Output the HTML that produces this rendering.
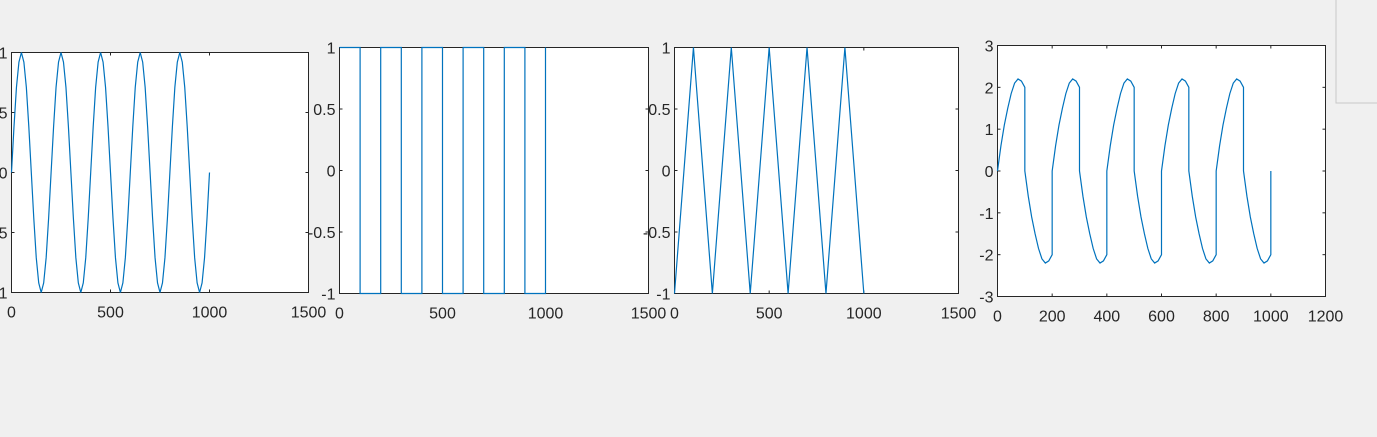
<!DOCTYPE html>
<html><head><meta charset="utf-8"><style>
body{margin:0;width:1377px;height:437px;background:#f0f0f0;overflow:hidden;font-family:"Liberation Sans",sans-serif}
svg{position:absolute;left:0;top:0}
text{font-size:16px;fill:#262626;font-family:"Liberation Sans",sans-serif}
</style></head><body>
<svg width="1377" height="437" id="s">
<rect x="1336" y="-1" width="50" height="104" fill="#f0f0f0" stroke="#c8c8c8"/>
</svg>
<script>
// plot 1: sine (one period, repeated)
const sinePerX=[0,12.5,25,37.5,50,62.5,75,87.5,100,112.5,125,137.5,150,162.5,175,187.5];
const sinePerY=[0,.38,.71,.92,1,.92,.71,.38,0,-.38,-.71,-.92,-1,-.92,-.71,-.38];
// plot 2: square
const sqX=[0,100,100,200,200,300,300,400,400,500,500,600,600,700,700,800,800,900,900,1000,1000];
const sqY=[1,1,-1,-1,1,1,-1,-1,1,1,-1,-1,1,1,-1,-1,1,1,-1,-1,1];
// plot 3: triangle
const triX=[0,100,200,300,400,500,600,700,800,900,1000];
const triY=[-1,1,-1,1,-1,1,-1,1,-1,1,-1];
// plot 4: one period, repeated
const perX=[0,12.5,25,37.5,50,62.5,75,87.5,100,100,112.5,125,137.5,150,162.5,175,187.5,200,200];
const perY=[0,.6,1.1,1.5,1.85,2.1,2.2,2.15,2.0,0,-.6,-1.1,-1.5,-1.85,-2.1,-2.2,-2.15,-2.0,0];
const nPeriods=5;
const xt1=[0,500,1000,1500], yt1=[-1,-0.5,0,0.5,1];
const xt4=[0,200,400,600,800,1000,1200], yt4=[-3,-2,-1,0,1,2,3];

const svg=document.getElementById('s');const NS='http://www.w3.org/2000/svg';
function mk(t,a){const e=document.createElementNS(NS,t);for(const k in a)e.setAttribute(k,a[k]);svg.appendChild(e);return e;}
function plot(id,L,R,T,B,x0,x1,y0,y1,xt,yt,X,Y){
  const sx=v=>L+(v-x0)/(x1-x0)*(R-L), sy=v=>B-(v-y0)/(y1-y0)*(B-T);
  const bg=mk('rect',{x:L,y:T,width:R-L,height:B-T,fill:'#fff',stroke:'#262626','stroke-width':1});
  
  
  xt.forEach(v=>{const x=sx(v);
    mk('line',{x1:x,x2:x,y1:B,y2:B-3,stroke:'#262626'});mk('line',{x1:x,x2:x,y1:T,y2:T+3,stroke:'#262626'});
    const t=mk('text',{x:x,y:B+25,'text-anchor':'middle'});t.textContent=v;
    
    });
  yt.forEach(v=>{const y=sy(v);
    mk('line',{x1:L,x2:L+3,y1:y,y2:y,stroke:'#262626'});mk('line',{x1:R,x2:R-3,y1:y,y2:y,stroke:'#262626'});
    const t=mk('text',{x:L-4,y:y+6,'text-anchor':'end'});t.textContent=v;
    
    });
  const p=mk('polyline',{points:X.map((x,i)=>sx(x)+','+sy(Y[i])).join(' '),fill:'none',stroke:'#0072bd','stroke-width':1.2});
  
  
}
const X1=[],Y1=[];
for(let k=0;k<nPeriods;k++)sinePerX.forEach((x,i)=>{X1.push(x+200*k);Y1.push(sinePerY[i]);});
X1.push(1000);Y1.push(0);
plot('sine-plot',11.5,308.5,52.5,292.5,0,1500,-1,1,xt1,yt1,X1,Y1);
plot('square-plot',339.5,648.5,47.5,293.5,0,1500,-1,1,xt1,yt1,sqX,sqY);
plot('triangle-plot',674.5,958.5,47.5,293.5,0,1500,-1,1,xt1,yt1,triX,triY);
const X4=[],Y4=[];
for(let k=0;k<nPeriods;k++)perX.forEach((x,i)=>{X4.push(x+200*k);Y4.push(perY[i]);});
plot('sawsine-plot',997.5,1325.5,45.5,296.5,0,1200,-3,3,xt4,yt4,X4,Y4);
</script>
</body></html>
